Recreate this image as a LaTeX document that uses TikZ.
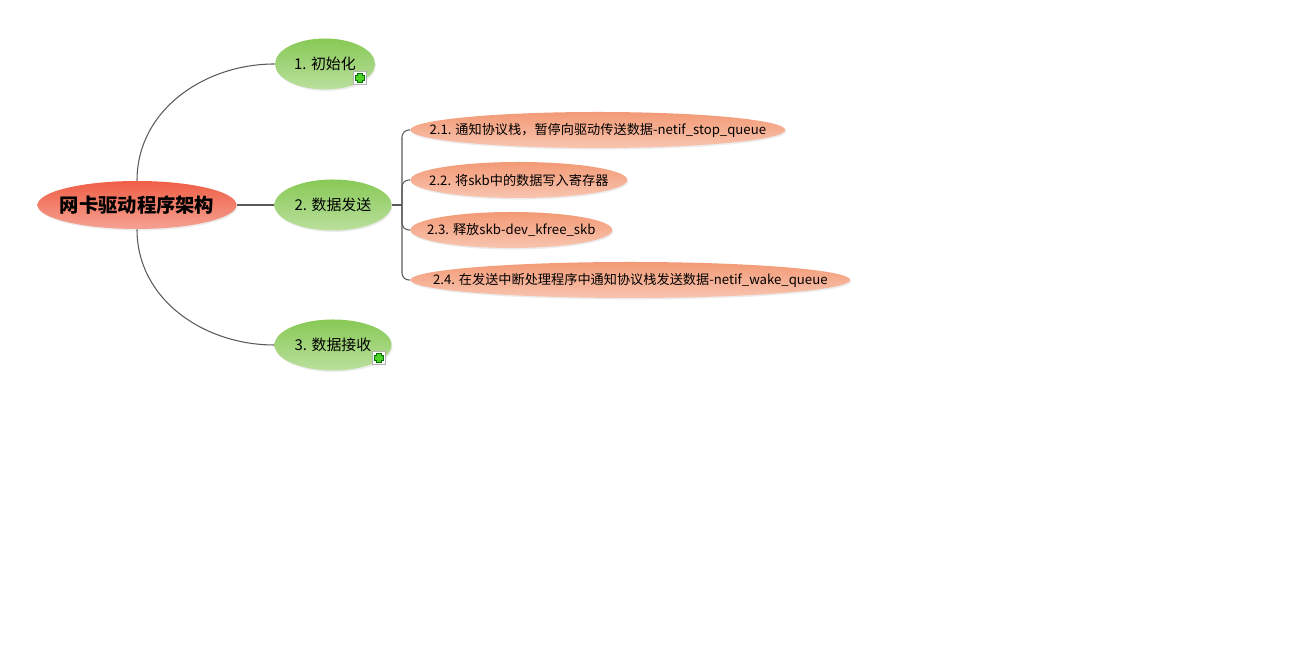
\documentclass[tikz,border=0pt]{standalone}
\usepackage{fontspec}
\setmainfont{Noto Sans CJK SC}
\usetikzlibrary{shapes.geometric, shadows}
\definecolor{rootred}{HTML}{EF5E45}
\definecolor{topicgreen}{HTML}{88C956}
\definecolor{subsalmon}{HTML}{F39A76}
\definecolor{linkgray}{HTML}{5A5A5A}
\definecolor{plusgreen}{HTML}{4FD12A}

\tikzset{
  bubble/.style={ellipse, inner sep=0pt,
    drop shadow={opacity=.15, shadow xshift=.6pt, shadow yshift=-.9pt}},
  rootbubble/.style={bubble, top color=rootred, middle color=rootred!92!white,
    bottom color=rootred!58!white, minimum width=3.98cm, minimum height=0.96cm},
  topicbubble/.style={bubble, top color=topicgreen, middle color=topicgreen!92!white,
    bottom color=topicgreen!58!white, minimum height=1.02cm},
  subbubble/.style={bubble, anchor=west, top color=subsalmon, middle color=subsalmon!92!white,
    bottom color=subsalmon!58!white, minimum height=0.72cm},
  link/.style={draw=linkgray, line width=0.6pt},
  expander/.style={rectangle, draw=black!30, fill=white, minimum size=0.26cm, inner sep=0pt,
    path picture={
      \draw[green!45!black, line width=0.12cm] (path picture bounding box.center) ++(-0.1cm,0) -- ++(0.2cm,0);
      \draw[green!45!black, line width=0.12cm] (path picture bounding box.center) ++(0,-0.1cm) -- ++(0,0.2cm);
      \draw[plusgreen, line width=0.075cm] (path picture bounding box.center) ++(-0.085cm,0) -- ++(0.17cm,0);
      \draw[plusgreen, line width=0.075cm] (path picture bounding box.center) ++(0,-0.085cm) -- ++(0,0.17cm);
    }},
}

\begin{document}
\begin{tikzpicture}[x=0.02cm, y=0.02cm]
	\useasboundingbox (0,0) rectangle (1313,648);

	% root topic
	\node[rootbubble, label={[font=\bfseries\fontsize{11}{13}\selectfont]center:网卡驱动程序架构}] (root) at (137,443) {};

	% main topics
	\node[topicbubble, minimum width=2.0cm, label={[font=\fontsize{8.5}{10}\selectfont]center:1. 初始化}] (init) at (325,584) {};
	\node[topicbubble, minimum width=2.34cm, label={[font=\fontsize{8.5}{10}\selectfont]center:2. 数据发送}] (send) at (333,443) {};
	\node[topicbubble, minimum width=2.34cm, label={[font=\fontsize{8.5}{10}\selectfont]center:3. 数据接收}] (recv) at (333,303) {};
	\node[expander] (initplus) at (360,570) {};
	\node[expander] (recvplus) at (379,290) {};

	% sub topics of 2
	\node[subbubble, minimum width=7.5cm, label={[font=\fontsize{7.5}{9}\selectfont]center:2.1. 通知协议栈，暂停向驱动传送数据-netif\_stop\_queue}] (send1) at (410,518) {};
	\node[subbubble, minimum width=4.34cm, label={[font=\fontsize{7.5}{9}\selectfont]center:2.2. 将skb中的数据写入寄存器}] (send2) at (410,468) {};
	\node[subbubble, minimum width=4.04cm, label={[font=\fontsize{7.5}{9}\selectfont]center:2.3. 释放skb-dev\_kfree\_skb}] (send3) at (410,418) {};
	\node[subbubble, minimum width=8.8cm, label={[font=\fontsize{7.5}{9}\selectfont]center:2.4. 在发送中断处理程序中通知协议栈发送数据-netif\_wake\_queue}] (send4) at (410,368) {};

	% branches
	\draw[link] (root.north) to[out=90,in=180] (init.west);
	\draw[link] (root.east) -- (send.west);
	\draw[link] (root.south) to[out=-90,in=180] (recv.west);

	\coordinate (fork) at (402,443);
	\draw[link] (send.east) -- (fork);
	\foreach \sub in {send1,send2,send3,send4}
		\draw[link, rounded corners=4pt] (fork) |- (\sub.west);
\end{tikzpicture}
\end{document}
